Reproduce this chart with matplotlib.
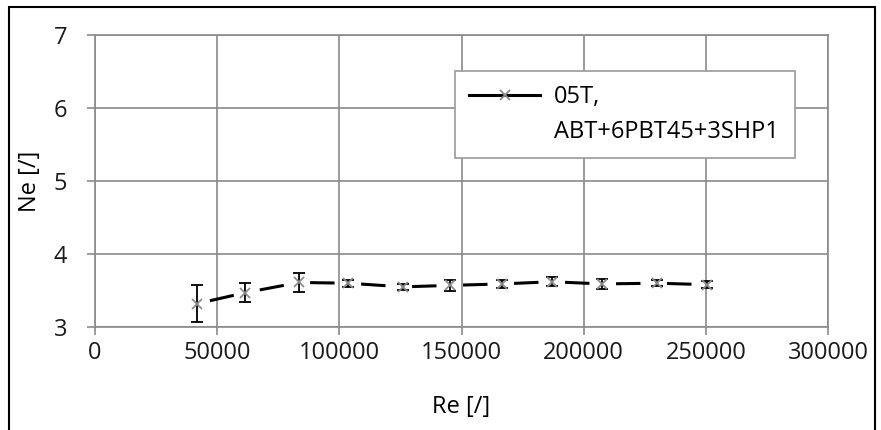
import matplotlib
matplotlib.use("Agg")
import matplotlib.pyplot as plt
from matplotlib.lines import Line2D
from matplotlib.patches import Rectangle

re_vals = [41800, 61500, 83500, 103600, 126000, 145300, 166600, 187000, 207500, 230000, 250500]
ne_vals = [3.32, 3.47, 3.61, 3.60, 3.55, 3.57, 3.59, 3.62, 3.59, 3.60, 3.58]
ne_err = [0.25, 0.13, 0.13, 0.05, 0.04, 0.07, 0.05, 0.06, 0.07, 0.04, 0.05]

series_label = ["05T,", "ABT+6PBT45+3SHP1"]
x_ticks = [0, 50000, 100000, 150000, 200000, 250000, 300000]
y_ticks = [3, 4, 5, 6, 7]

plt.rcParams["font.family"] = ["Open Sans", "DejaVu Sans"]
GRID = "#8a8a8a"
W, H = 881, 430

fig = plt.figure(figsize=(W / 100, H / 100), dpi=100)
ax = fig.add_axes([95 / W, 1 - 327 / H, (828 - 95) / W, (327 - 35) / H])

ax.errorbar(re_vals, ne_vals, yerr=ne_err, fmt="none", ecolor="black",
            elinewidth=1.3, capsize=4.5, capthick=1.3, zorder=3)
ax.plot(re_vals, ne_vals, color="black", lw=2.2,
        linestyle=(12.4, (8.0, 8.7)), zorder=4)
ax.plot(re_vals, ne_vals, linestyle="none", marker="x", markersize=6.5,
        mew=1.3, color="#8c8c8c", zorder=5)

ax.set_xlim(0, 300000)
ax.set_ylim(3, 7)
ax.set_xticks(x_ticks)
ax.set_yticks(y_ticks)
ax.grid(True, color=GRID, lw=1.2)
ax.set_axisbelow(True)
for s in ax.spines.values():
    s.set_color(GRID)
    s.set_linewidth(1.2)
ax.tick_params(axis="both", colors=GRID, length=6, width=1.2, labelsize=17,
               labelcolor="#1a1a1a")
ax.tick_params(axis="y", pad=14)
ax.tick_params(axis="x", pad=4)
ax.set_xlabel("Re [/]", fontsize=17, labelpad=22)
ax.set_ylabel("Ne [/]", fontsize=17, labelpad=8)

# legend: line+marker handle on first text line, blank handle on second
h1 = Line2D([], [], color="black", lw=2.2, marker="x", markersize=6.5,
            mec="#8c8c8c", mew=1.3)
h2 = Line2D([], [], color="none")
leg = ax.legend([h1, h2], series_label, loc="upper left",
                bbox_to_anchor=(455 / W, 1 - 157 / H, 340 / W, 86 / H),
                bbox_transform=fig.transFigure, mode="expand",
                borderaxespad=0, fontsize=17, handlelength=3.0,
                handletextpad=0.6, labelspacing=0.45, borderpad=0.6,
                fancybox=False, shadow=False, framealpha=1)
leg.get_frame().set_edgecolor("#9a9a9a")
leg.get_frame().set_linewidth(1.2)

# outer chart frame
fig.patches.append(Rectangle((9 / W, -0.05), (875 - 9) / W, 1.05 - 7 / H,
                             transform=fig.transFigure, fill=False,
                             edgecolor="black", lw=1.5))

fig.savefig("out.png", dpi=100)
